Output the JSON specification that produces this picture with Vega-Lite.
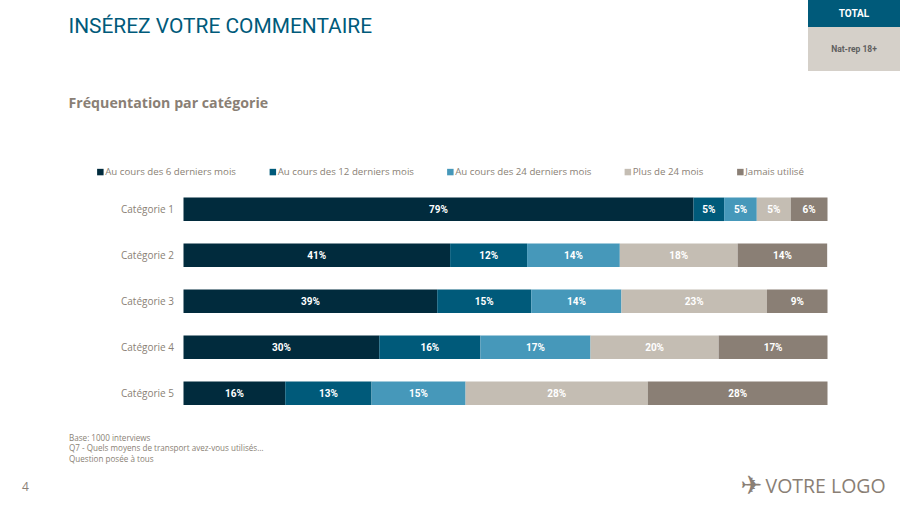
{"$schema":"https://vega.github.io/schema/vega-lite/v6.json","width":644,"height":230,"autosize":{"type":"none"},"padding":{"left":183.5,"top":186.3,"right":72.5,"bottom":89.7},"background":"white","config":{"view":{"stroke":null},"font":"Open Sans"},
"title":{"text":"INSÉREZ VOTRE COMMENTAIRE","subtitle":"Fréquentation par catégorie","anchor":"start","frame":"group","dx":-115,"dy":163,"offset":52,"font":"Roboto","fontSize":20.9,"fontWeight":"normal","color":"#005A7A","subtitleFont":"Open Sans","subtitleFontSize":14.2,"subtitleFontWeight":"bold","subtitleColor":"#8A7F75","subtitlePadding":60},
"datasets":{"furniture":[{"t":"TOTAL"}],"rows":[
{"categorie":"Catégorie 1","periode":"Au cours des 6 derniers mois","rang":1,"part":0.792},{"categorie":"Catégorie 1","periode":"Au cours des 12 derniers mois","rang":2,"part":0.0475},{"categorie":"Catégorie 1","periode":"Au cours des 24 derniers mois","rang":3,"part":0.0507},{"categorie":"Catégorie 1","periode":"Plus de 24 mois","rang":4,"part":0.0528},{"categorie":"Catégorie 1","periode":"Jamais utilisé","rang":5,"part":0.057},
{"categorie":"Catégorie 2","periode":"Au cours des 6 derniers mois","rang":1,"part":0.414},{"categorie":"Catégorie 2","periode":"Au cours des 12 derniers mois","rang":2,"part":0.1195},{"categorie":"Catégorie 2","periode":"Au cours des 24 derniers mois","rang":3,"part":0.144},{"categorie":"Catégorie 2","periode":"Plus de 24 mois","rang":4,"part":0.183},{"categorie":"Catégorie 2","periode":"Jamais utilisé","rang":5,"part":0.139},
{"categorie":"Catégorie 3","periode":"Au cours des 6 derniers mois","rang":1,"part":0.394},{"categorie":"Catégorie 3","periode":"Au cours des 12 derniers mois","rang":2,"part":0.146},{"categorie":"Catégorie 3","periode":"Au cours des 24 derniers mois","rang":3,"part":0.14},{"categorie":"Catégorie 3","periode":"Plus de 24 mois","rang":4,"part":0.226},{"categorie":"Catégorie 3","periode":"Jamais utilisé","rang":5,"part":0.094},
{"categorie":"Catégorie 4","periode":"Au cours des 6 derniers mois","rang":1,"part":0.304},{"categorie":"Catégorie 4","periode":"Au cours des 12 derniers mois","rang":2,"part":0.157},{"categorie":"Catégorie 4","periode":"Au cours des 24 derniers mois","rang":3,"part":0.171},{"categorie":"Catégorie 4","periode":"Plus de 24 mois","rang":4,"part":0.199},{"categorie":"Catégorie 4","periode":"Jamais utilisé","rang":5,"part":0.169},
{"categorie":"Catégorie 5","periode":"Au cours des 6 derniers mois","rang":1,"part":0.158},{"categorie":"Catégorie 5","periode":"Au cours des 12 derniers mois","rang":2,"part":0.134},{"categorie":"Catégorie 5","periode":"Au cours des 24 derniers mois","rang":3,"part":0.146},{"categorie":"Catégorie 5","periode":"Plus de 24 mois","rang":4,"part":0.283},{"categorie":"Catégorie 5","periode":"Jamais utilisé","rang":5,"part":0.279}]},
"layer":[
{"data":{"name":"rows"},"transform":[{"stack":"part","groupby":["categorie"],"sort":[{"field":"rang","order":"ascending"}],"as":["debut","fin"]}],
"mark":{"type":"bar","size":23.5},
"encoding":{"y":{"field":"categorie","type":"nominal","title":null,"axis":{"domain":false,"ticks":false,"labelColor":"#8A7F75","labelFontSize":10,"labelPadding":10,"labelFont":"Open Sans","labelOffset":0.7}},
"x":{"field":"debut","type":"quantitative","scale":{"domain":[0,1],"nice":false},"axis":{"domain":false,"ticks":false,"labels":false,"grid":false,"title":["Base: 1000 interviews","Q7 - Quels moyens de transport avez-vous utilisés…","Question posée à tous"],"titleX":-115,"titleY":22,"titleAlign":"left","titleBaseline":"middle","titleFont":"Open Sans","titleFontSize":8.1,"titleFontWeight":"normal","titleColor":"#8A7F75","titleLineHeight":10.5}},
"x2":{"field":"fin"},
"color":{"field":"periode","type":"nominal","scale":{"domain":["Au cours des 6 derniers mois","Au cours des 12 derniers mois","Au cours des 24 derniers mois","Plus de 24 mois","Jamais utilisé"],"range":["#012B3D","#005A7A","#4698BA","#C4BDB3","#8A7F75"]},"legend":{"title":null,"orient":"none","legendX":-88,"legendY":-19.3,"direction":"horizontal","columns":5,"columnPadding":31.5,"symbolType":"square","symbolSize":42,"symbolStrokeWidth":0,"labelColor":"#8A7F75","labelFontSize":9.7,"labelFont":"Open Sans","labelOffset":0,"labelLimit":200}}}},
{"data":{"name":"rows"},"transform":[{"stack":"part","groupby":["categorie"],"sort":[{"field":"rang","order":"ascending"}],"as":["debut","fin"]},{"calculate":"(datum.debut+datum.fin)/2","as":"milieu"}],
"mark":{"type":"text","color":"white","fontWeight":"bold","fontSize":10,"font":"Roboto","align":"center","dy":0.3},
"encoding":{"y":{"field":"categorie","type":"nominal"},"x":{"field":"milieu","type":"quantitative"},"text":{"field":"part","type":"quantitative","format":".0%"}}},
{"data":{"name":"furniture"},"mark":{"type":"rect","color":"#005A7A"},"encoding":{"x":{"value":624.5},"x2":{"value":716.5},"y":{"value":-186.3},"y2":{"value":-159.3}}},
{"data":{"name":"furniture"},"mark":{"type":"rect","color":"#D5D0C9"},"encoding":{"x":{"value":624.5},"x2":{"value":716.5},"y":{"value":-159.3},"y2":{"value":-115.3}}},
{"data":{"name":"furniture"},"mark":{"type":"text","color":"white","fontWeight":"bold","fontSize":10,"font":"Roboto"},"encoding":{"text":{"value":"TOTAL"},"x":{"value":670.5},"y":{"value":-172.3}}},
{"data":{"name":"furniture"},"mark":{"type":"text","color":"#5F5F5F","fontWeight":"bold","fontSize":8.5,"font":"Roboto"},"encoding":{"text":{"value":"Nat-rep 18+"},"x":{"value":670.5},"y":{"value":-137}}},
{"data":{"name":"furniture"},"mark":{"type":"text","color":"#8A7F75","fontSize":12,"font":"Open Sans"},"encoding":{"text":{"value":"4"},"x":{"value":-158},"y":{"value":301}}},
{"data":{"name":"furniture"},"mark":{"type":"text","color":"#8A7F75","fontSize":26,"font":"DejaVu Sans","align":"center"},"encoding":{"text":{"value":"✈"},"x":{"value":568},"y":{"value":299.5}}},
{"data":{"name":"furniture"},"mark":{"type":"text","color":"#8A7F75","fontSize":19.5,"font":"Open Sans","align":"left"},"encoding":{"text":{"value":"VOTRE LOGO"},"x":{"value":582},"y":{"value":300.5}}}
]}
